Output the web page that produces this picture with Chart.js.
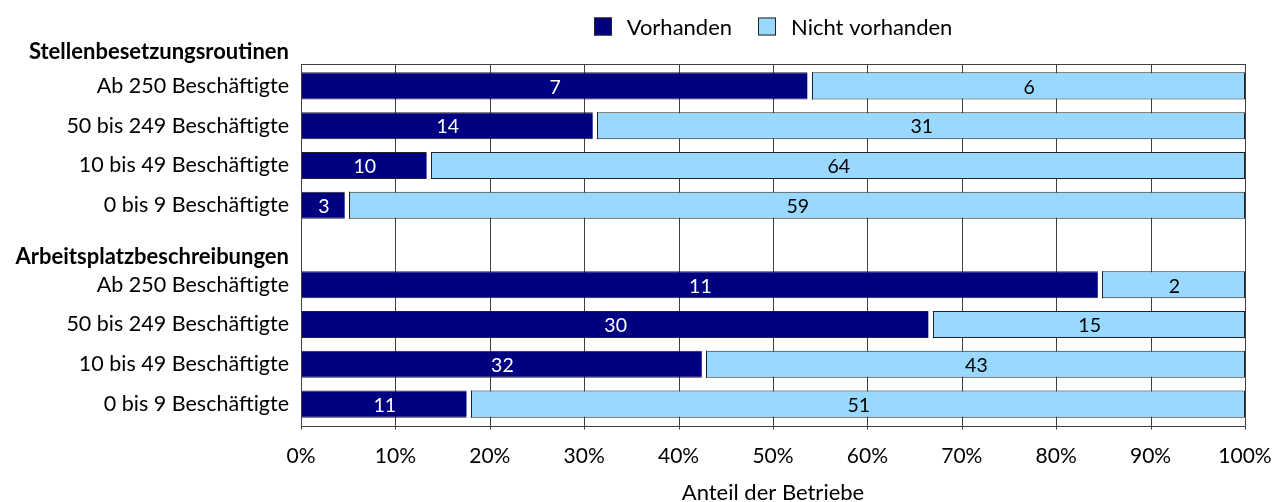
<!DOCTYPE html>
<html><head><meta charset="utf-8">
<script src="https://cdn.jsdelivr.net/npm/chart.js@4"></script>
<style>html,body{margin:0;padding:0;background:#fff}#wrap{width:1284px;height:502px}</style>
</head><body><div id="wrap"><canvas id="c" width="1284" height="502"></canvas></div>
<script>
// ---- data ----
const categories = [
  'Ab 250 Beschäftigte', '50 bis 249 Beschäftigte', '10 bis 49 Beschäftigte', '0 bis 9 Beschäftigte',
  '',
  'Ab 250 Beschäftigte', '50 bis 249 Beschäftigte', '10 bis 49 Beschäftigte', '0 bis 9 Beschäftigte'
];
const groupHeaders = ['Stellenbesetzungsroutinen', 'Arbeitsplatzbeschreibungen'];
const groupHeaderSlots = [-0.85, 4.3];
const seriesNames = ['Vorhanden', 'Nicht vorhanden'];
const vorhanden      = [7, 14, 10, 3, null, 11, 30, 32, 11];
const nichtVorhanden = [6, 31, 64, 59, null, 2, 15, 43, 51];
const xTickValues = [0, 10, 20, 30, 40, 50, 60, 70, 80, 90, 100];
const xAxisTitle = 'Anteil der Betriebe';

// share of firms (100% stacked)
const shareV = vorhanden.map((v, i) => v == null ? null : v / (v + nichtVorhanden[i]) * 100);
const shareN = nichtVorhanden.map((v, i) => v == null ? null : v / (v + vorhanden[i]) * 100);
const counts = [vorhanden, nichtVorhanden];

const FONT = 'Lato, "Open Sans", sans-serif';
const DARK = '#000080', LIGHT = '#99D9FF', EDGE = '#222222', GRID = '#404040';
const FRAME_TOP = 64.5, FRAME_BOTTOM = 426.5;

const decorPlugin = {
  id: 'decor',
  beforeDatasetsDraw(chart) {
    const ctx = chart.ctx;
    const xs = chart.scales.x;
    ctx.save();
    ctx.strokeStyle = GRID; ctx.lineWidth = 1;
    xTickValues.forEach(v => {
      const px = Math.round(xs.getPixelForValue(v)) + 0.5;
      ctx.beginPath(); ctx.moveTo(px, FRAME_TOP); ctx.lineTo(px, FRAME_BOTTOM + 3); ctx.stroke();
    });
    ctx.restore();
  },
  afterDatasetsDraw(chart) {
    const ctx = chart.ctx;
    const metaL = chart.getDatasetMeta(1);
    // small white gap between the two segments
    metaL.data.forEach((el, i) => {
      if (shareN[i] == null) return;
      const p = el.getProps(['x', 'y', 'base', 'height'], true);
      const top = p.y - p.height / 2, bot = p.y + p.height / 2;
      if (p.base <= chart.chartArea.left + 1) return;
      ctx.save();
      ctx.fillStyle = '#ffffff';
      ctx.fillRect(p.base - 2, top - 0.5, 4.5, p.height + 1);
      ctx.strokeStyle = EDGE; ctx.lineWidth = 1;
      const lx = Math.round(p.base + 2.5) + 0.5;
      ctx.beginPath(); ctx.moveTo(lx, top); ctx.lineTo(lx, bot); ctx.stroke();
      ctx.restore();
    });
    // value labels
    ctx.save();
    ctx.font = '19.5px ' + FONT;
    ctx.textAlign = 'center';
    ctx.textBaseline = 'middle';
    [0, 1].forEach(d => {
      const meta = chart.getDatasetMeta(d);
      meta.data.forEach((el, i) => {
        const v = counts[d][i];
        if (v == null) return;
        const p = el.getProps(['x', 'y', 'base'], true);
        ctx.fillStyle = d === 0 ? '#ffffff' : '#000000';
        ctx.fillText(String(v), (p.x + p.base) / 2 + (d === 1 ? 2 : 0), p.y + 1.5);
      });
    });
    ctx.restore();
  },
  afterDraw(chart) {
    const ctx = chart.ctx;
    const ca = chart.chartArea;
    const xs = chart.scales.x;
    const ys = chart.scales.y;
    ctx.save();
    // plot frame
    ctx.strokeStyle = GRID; ctx.lineWidth = 1;
    const l = Math.round(xs.getPixelForValue(0)) + 0.5, r = Math.round(xs.getPixelForValue(100)) + 0.5;
    ctx.strokeRect(l, FRAME_TOP, r - l, FRAME_BOTTOM - FRAME_TOP);
    // group headers
    ctx.font = 'bold 22px ' + FONT;
    ctx.fillStyle = '#000';
    ctx.textAlign = 'right';
    ctx.textBaseline = 'middle';
    groupHeaders.forEach((h, k) => {
      ctx.fillText(h, ys.right - 12, ys.getPixelForValue(groupHeaderSlots[k]));
    });
    // legend
    ctx.font = '22px ' + FONT;
    const box = 18, gap = 15, spacing = 26;
    const w0 = ctx.measureText(seriesNames[0]).width, w1 = ctx.measureText(seriesNames[1]).width;
    const total = box + gap + w0 + spacing + box + gap + w1;
    let x = (ca.left + ca.right) / 2 - total / 2;
    const yc = 26.5;
    ctx.textAlign = 'left';
    [[DARK, seriesNames[0], w0], [LIGHT, seriesNames[1], w1]].forEach(([col, txt, w]) => {
      const bx = Math.round(x);
      ctx.fillStyle = col;
      ctx.fillRect(bx, yc - box / 2, box, box);
      ctx.strokeStyle = EDGE;
      ctx.strokeRect(bx + 0.5, yc - box / 2 + 0.5, box - 1, box - 1);
      ctx.fillStyle = '#000';
      ctx.fillText(txt, x + box + gap, yc + 1.5);
      x += box + gap + w + spacing;
    });
    ctx.restore();
  }
};

new Chart(document.getElementById('c'), {
  type: 'bar',
  data: {
    labels: categories,
    datasets: [
      { label: seriesNames[0], data: shareV, backgroundColor: DARK, borderColor: EDGE, borderWidth: 1, borderSkipped: false, barPercentage: 0.68, categoryPercentage: 1 },
      { label: seriesNames[1], data: shareN, backgroundColor: LIGHT, borderColor: EDGE, borderWidth: 1, borderSkipped: false, barPercentage: 0.68, categoryPercentage: 1 }
    ]
  },
  options: {
    indexAxis: 'y',
    responsive: false,
    animation: false,
    devicePixelRatio: 1,
    layout: { padding: { top: 66, right: 39, bottom: 0, left: 0 } },
    plugins: { legend: { display: false }, tooltip: { enabled: false } },
    scales: {
      x: {
        type: 'linear', min: 0, max: 100, stacked: true,
        afterBuildTicks: s => { s.ticks = xTickValues.map(v => ({ value: v })); },
        ticks: { callback: v => v + '%', font: { size: 21, family: FONT }, color: '#000', padding: 20 },
        grid: { display: false, drawTicks: false },
        border: { display: false },
        title: { display: true, text: xAxisTitle, font: { size: 22, family: FONT, lineHeight: 0.8 }, color: '#000', padding: { top: 0, bottom: 0 } },
        afterFit: s => { s.height = 78; s.paddingLeft = 0; s.paddingRight = 0; }
      },
      y: {
        type: 'category', stacked: true,
        grid: { display: false, drawTicks: false },
        border: { display: false },
        ticks: { font: { size: 21.5, family: FONT }, color: '#000', padding: 12, autoSkip: false },
        afterFit: s => { s.width = 301; }
      }
    }
  },
  plugins: [decorPlugin]
});
</script>
</body></html>
